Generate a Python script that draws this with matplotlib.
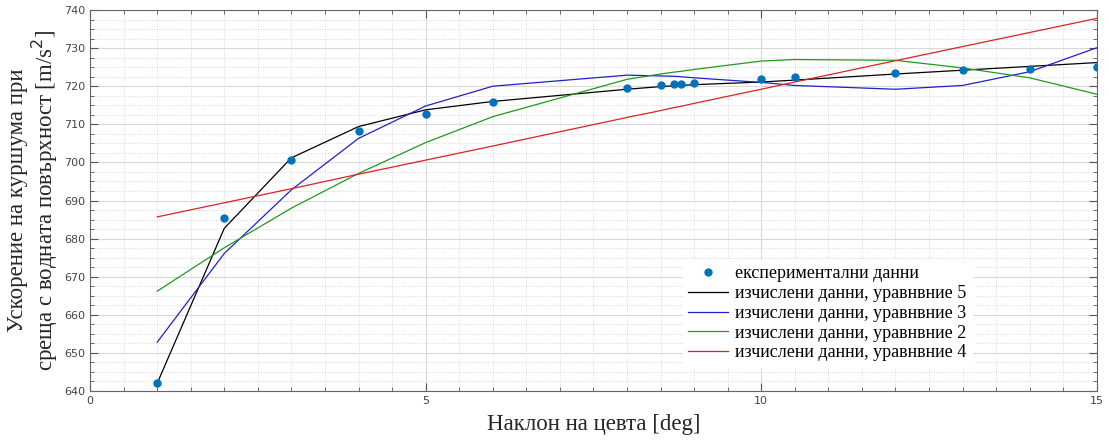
import matplotlib
matplotlib.use('Agg')
import matplotlib.pyplot as plt
from matplotlib.ticker import MultipleLocator

# angle of barrel [deg]
xVals = [1, 2, 3, 4, 5, 6, 8, 8.5, 8.7, 8.8, 9, 10, 10.5, 12, 13, 14, 15]
# measured acceleration
yExp = [642.0, 685.5, 700.6, 708.2, 712.6, 715.8, 719.5, 720.2, 720.6, 720.6, 720.8,
        721.9, 722.3, 723.5, 724.2, 724.6, 725.1]
# computed, eq. 5
yEq5 = [642.0, 682.7, 701.2, 709.4, 713.8, 716.0, 719.2, 719.9, 720.1, 720.2, 720.4,
        721.1, 721.6, 723.2, 724.2, 725.2, 726.2]
# computed, eq. 3
yEq3 = [652.8, 676.1, 692.8, 706.3, 714.8, 720.0, 722.9, 722.7, 722.6, 722.5, 722.2,
        721.0, 720.2, 719.2, 720.2, 723.8, 730.1]
# computed, eq. 2
yEq2 = [666.2, 677.6, 688.0, 697.1, 705.2, 712.0, 721.8, 723.2, 723.7, 723.9, 724.4,
        726.6, 727.0, 726.8, 724.8, 722.2, 717.9]
# computed, eq. 4
yEq4 = [685.7, 689.4, 693.1, 696.9, 700.6, 704.3, 711.8, 713.6, 714.4, 714.7, 715.5,
        719.2, 721.1, 726.7, 730.4, 734.1, 737.8]

labels = ['експериментални данни',
          'изчислени данни, уравнвние 5',
          'изчислени данни, уравнвние 3',
          'изчислени данни, уравнвние 2',
          'изчислени данни, уравнвние 4']

fig = plt.figure(figsize=(11.09, 4.41), dpi=100)
ax = fig.add_axes([0.0812, 0.1134, 0.9078, 0.8639])

ax.plot(xVals, yExp, 'o', color='#0072BD', markersize=5, label=labels[0], zorder=5)
ax.plot(xVals, yEq5, color='black', lw=0.9, label=labels[1])
ax.plot(xVals, yEq3, color='#2020d0', lw=0.9, label=labels[2])
ax.plot(xVals, yEq2, color='#1e9a1e', lw=0.9, label=labels[3])
ax.plot(xVals, yEq4, color='#e02020', lw=0.9, label=labels[4])

ax.set_xlim(0, 15)
ax.set_ylim(640, 740)
ax.xaxis.set_major_locator(MultipleLocator(5))
ax.xaxis.set_minor_locator(MultipleLocator(0.5))
ax.yaxis.set_major_locator(MultipleLocator(10))
ax.yaxis.set_minor_locator(MultipleLocator(2.5))

ax.grid(which='major', color='#d9d9d9', lw=0.8, ls='-')
ax.grid(which='minor', color='#d0d0d0', lw=0.6, ls=':')
ax.set_axisbelow(True)

ax.tick_params(which='both', direction='in', top=True, right=True,
               colors='#555555', labelsize=8, labelcolor='#444444')
ax.tick_params(which='major', length=6)
ax.tick_params(which='minor', length=3)
for s in ax.spines.values():
    s.set_color('#666666')
    s.set_linewidth(0.8)

serif = ['Liberation Serif', 'DejaVu Serif']
ax.set_xlabel('Наклон на цевта [deg]', family=serif, fontsize=16.5,
              color='#262626', labelpad=6)
ax.set_ylabel('Ускорение на куршума при\nсреща с водната повърхност [m/s$^2$]',
              family=serif, fontsize=16.5, linespacing=1.05, color='#262626',
              labelpad=3)

leg = ax.legend(loc='lower right', bbox_to_anchor=(0.885, 0.04),
                prop={'family': serif, 'size': 13}, frameon=True, fancybox=False,
                framealpha=1, edgecolor='white', handlelength=2.2,
                handletextpad=0.4, labelspacing=0.15, borderpad=0.3)

fig.savefig('out.png', dpi=100)
